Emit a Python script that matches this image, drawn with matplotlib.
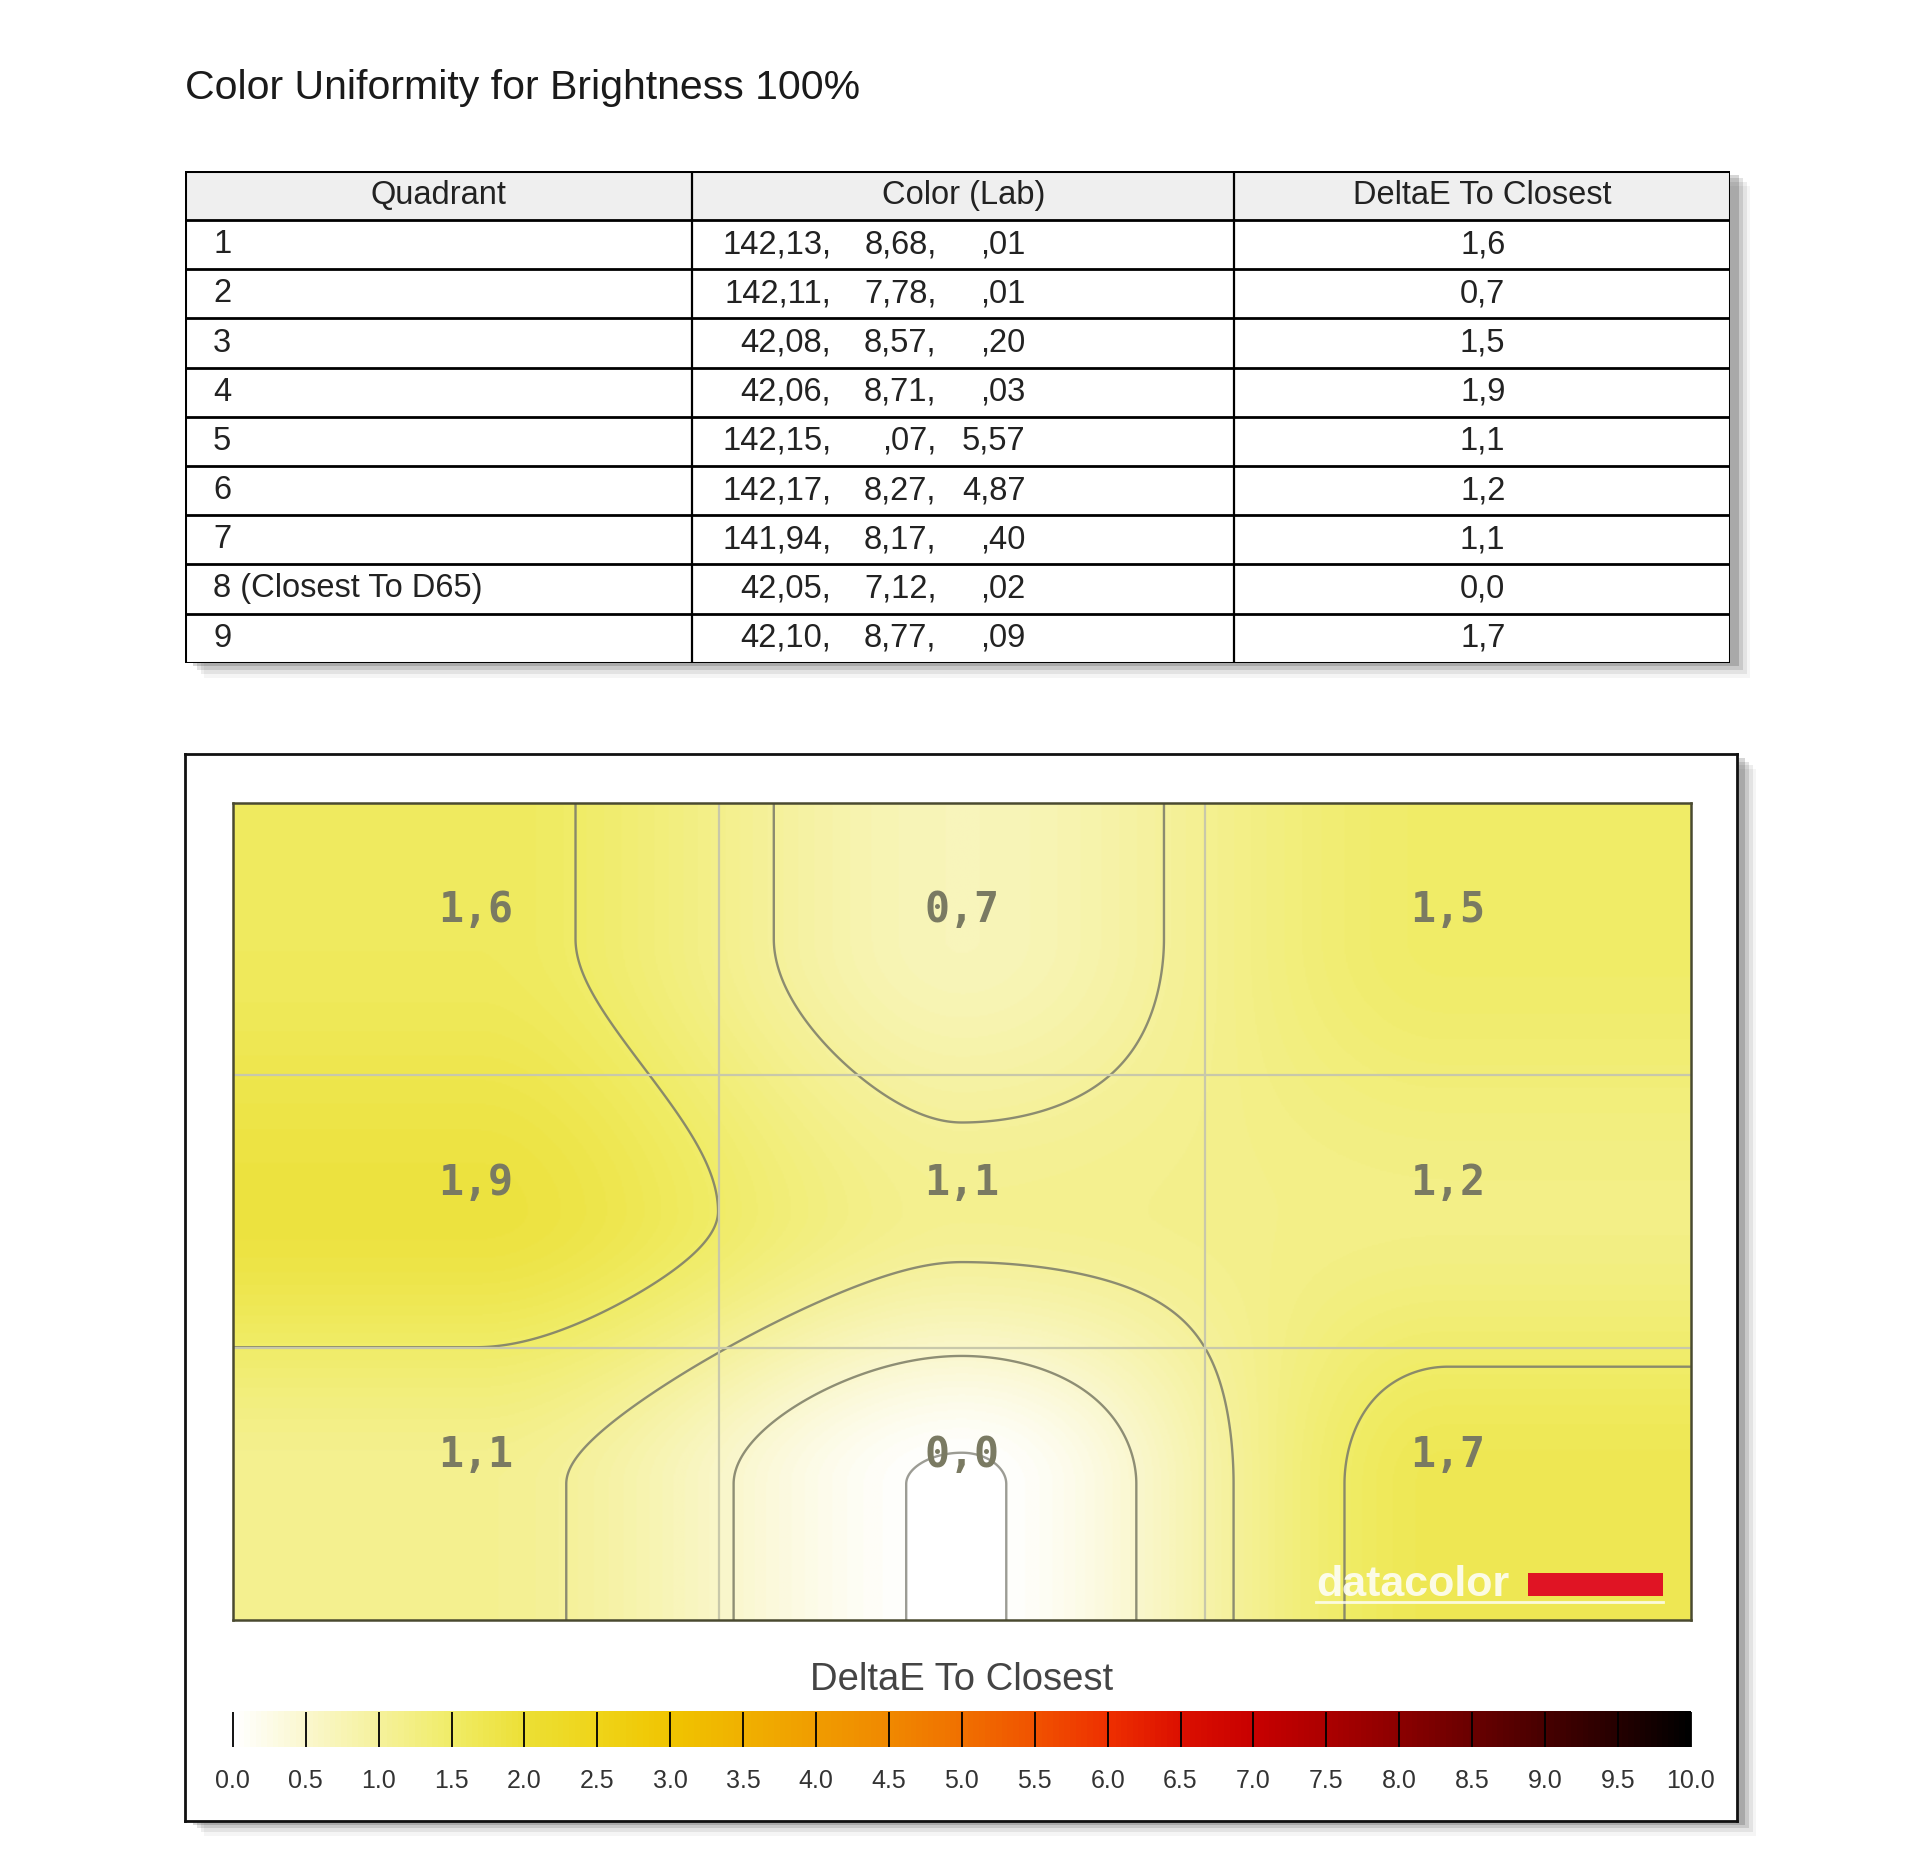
import matplotlib
matplotlib.use("Agg")
import matplotlib.pyplot as plt
import numpy as np
from matplotlib.colors import LinearSegmentedColormap, Normalize
from matplotlib.cm import ScalarMappable
from matplotlib.patches import Rectangle

plt.rcParams['font.family'] = ['Liberation Sans', 'DejaVu Sans']

# ---- data ----
title = "Color Uniformity for Brightness 100%"
col_headers = ["Quadrant", "Color (Lab)", "DeltaE To Closest"]
quadrants = ["1", "2", "3", "4", "5", "6", "7", "8 (Closest To D65)", "9"]
lab_L = ["142,13", "142,11", "42,08", "42,06", "142,15", "142,17", "141,94", "42,05", "42,10"]
lab_a = ["8,68", "7,78", "8,57", "8,71", ",07", "8,27", "8,17", "7,12", "8,77"]
lab_b = [",01", ",01", ",20", ",03", "5,57", "4,87", ",40", ",02", ",09"]
delta_e = [1.6, 0.7, 1.5, 1.9, 1.1, 1.2, 1.1, 0.0, 1.7]
cbar_title = "DeltaE To Closest"
cbar_ticks = [0.0, 0.5, 1.0, 1.5, 2.0, 2.5, 3.0, 3.5, 4.0, 4.5, 5.0,
              5.5, 6.0, 6.5, 7.0, 7.5, 8.0, 8.5, 9.0, 9.5, 10.0]
contour_levels = [0.04, 0.5, 1.0, 1.502]

# colour scale of the report (value -> colour)
cmap_stops = [(0.0, "#ffffff"), (0.5, "#faf7cc"), (1.0, "#f5f19a"), (1.5, "#f0ec66"),
              (2.0, "#ecdf34"), (2.5, "#efd418"), (3.0, "#f0c400"), (3.5, "#f0b000"),
              (4.0, "#f09c00"), (4.5, "#f08800"), (5.0, "#f07000"), (5.5, "#f05200"),
              (6.0, "#ee3000"), (6.5, "#dc1000"), (7.0, "#c80000"), (7.5, "#ac0000"),
              (8.0, "#8c0000"), (8.5, "#6a0000"), (9.0, "#480000"), (9.5, "#260000"),
              (10.0, "#000000")]
cmap = LinearSegmentedColormap.from_list("dc", [(v / 10.0, c) for v, c in cmap_stops])
norm = Normalize(0, 10)

# ---- layout helpers (reference measured on a 1550 x 1501 view) ----
RW, RH = 1550.0, 1500.8
fig = plt.figure(figsize=(19.2, 18.59), dpi=100)


def fx(x):
    return x / RW


def fy(y):
    return 1 - y / RH


def box(x0, y0, x1, y1):
    return [fx(x0), fy(y1), fx(x1) - fx(x0), fy(y0) - fy(y1)]


def shadow(x0, y0, x1, y1):
    for i, a in enumerate([0.16, 0.11, 0.07, 0.04]):
        d = 3 + 3 * i
        fig.add_artist(Rectangle((fx(x0 + d + 4), fy(y1 + d)), fx(x1) - fx(x0),
                                 fy(y0) - fy(y1), transform=fig.transFigure,
                                 facecolor="black", edgecolor="none", alpha=a, zorder=-5))


fig.text(fx(149), fy(80), title, fontsize=29.5, color="#1a1a1a", va="baseline")

# ---- table ----
shadow(149, 138, 1397, 535)
tab = fig.add_axes(box(149, 138, 1397, 535))
tab.set_xlim(149, 1397)
tab.set_ylim(len(quadrants) + 1, 0)
tab.axis("off")
tab.add_patch(Rectangle((149, 0), 1248, len(quadrants) + 1, facecolor="white",
                        edgecolor="none", zorder=0))
tab.add_patch(Rectangle((149, 0), 1248, 1, facecolor="#efefef", edgecolor="none", zorder=0.5))
tab.add_patch(Rectangle((149, 0), 1248, len(quadrants) + 1, facecolor="none",
                        edgecolor="black", lw=2.2, zorder=3))
tab.hlines(np.arange(1, len(quadrants) + 1), 149, 1397, color="black", lw=2.0)
tab.vlines([559, 996], 0, len(quadrants) + 1, color="black", lw=1.6)

fs = 23.5
for cx, h in zip([354, 778, 1197], col_headers):
    tab.text(cx, 0.5, h, ha="center", va="center", fontsize=fs, color="#222222")
for i in range(len(quadrants)):
    y = i + 1.5
    tab.text(172, y, quadrants[i], ha="left", va="center", fontsize=fs, color="#222222")
    tab.text(671, y, lab_L[i] + ",", ha="right", va="center", fontsize=fs, color="#222222")
    tab.text(756, y, lab_a[i] + ",", ha="right", va="center", fontsize=fs, color="#222222")
    tab.text(828, y, lab_b[i], ha="right", va="center", fontsize=fs, color="#222222")
    tab.text(1197, y, f"{delta_e[i]:.1f}".replace(".", ","), ha="center", va="center",
             fontsize=fs, color="#222222")

# ---- uniformity map frame ----
shadow(149, 609, 1402, 1470)
frame = fig.add_axes(box(149, 609, 1402, 1470))
frame.set_xticks([])
frame.set_yticks([])
for s in frame.spines.values():
    s.set_linewidth(2.0)
    s.set_color("#111111")

grid = np.array(delta_e).reshape(3, 3)


def smooth_weights(q):
    # cubic hermite weights with flat tangents at the knots (cell centres 0.5, 1.5, 2.5)
    knots = np.array([0.5, 1.5, 2.5])
    w = np.zeros((len(q), 3))
    qc = np.clip(q, knots[0], knots[-1])
    seg = np.minimum((qc - knots[0]).astype(int), 1)
    u = qc - knots[seg]
    s = 3 * u ** 2 - 2 * u ** 3
    w[np.arange(len(q)), seg] = 1 - s
    w[np.arange(len(q)), seg + 1] += s
    return w


xs = np.linspace(0, 3, 900)
ys = np.linspace(0, 3, 510)
Z = smooth_weights(ys) @ grid @ smooth_weights(xs).T

hm = fig.add_axes(box(188, 648, 1365, 1308))
hm.imshow(Z, cmap=cmap, norm=norm, extent=[0, 3, 3, 0],
          aspect="auto", interpolation="bilinear")
X, Y = np.meshgrid(xs, ys)
hm.contour(X, Y, Z, levels=contour_levels, colors=["#9c9c94", "#8e8e74", "#8c8c70", "#8a8a6a"],
           linewidths=1.7)
for g in [1, 2]:
    hm.axvline(g, color="#c8c8aa", lw=1.6)
    hm.axhline(g, color="#c8c8aa", lw=1.6)
for r in range(3):
    for c in range(3):
        hm.text(c + 0.5, r + 0.395, f"{grid[r, c]:.1f}".replace(".", ","), ha="center",
                va="center", fontsize=30, fontweight="bold", family="DejaVu Sans Mono",
                color="#7a7a62")
hm.set_xlim(0, 3)
hm.set_ylim(3, 0)
hm.set_xticks([])
hm.set_yticks([])
for s in hm.spines.values():
    s.set_linewidth(1.8)
    s.set_color("#4a4a30")

# datacolor mark
hm.text(0.743, 0.030, "datacolor", transform=hm.transAxes, fontsize=31, fontweight="bold",
        color="white", alpha=0.85, va="baseline", ha="left")
hm.add_patch(Rectangle((0.888, 0.030), 0.093, 0.028, transform=hm.transAxes,
                       facecolor="#e01424", edgecolor="none"))
hm.plot([0.743, 0.981], [0.022, 0.022], transform=hm.transAxes, color="white", lw=2, alpha=0.8)

# ---- colour bar ----
fig.text(fx(776), fy(1356), cbar_title, ha="center", va="center", fontsize=27.5, color="#444444")
cax = fig.add_axes(box(188, 1381, 1365, 1410))
cb = fig.colorbar(ScalarMappable(norm=norm, cmap=cmap), cax=cax, orientation="horizontal",
                  ticks=cbar_ticks)
cb.outline.set_visible(False)
cax.set_xticklabels([f"{t:.1f}" for t in cbar_ticks])
cax.tick_params(axis="x", direction="in", length=25, width=1.3, color="black",
                labelsize=18, labelcolor="#333333", pad=16)

fig.savefig("out.png", dpi=100, facecolor="white")
